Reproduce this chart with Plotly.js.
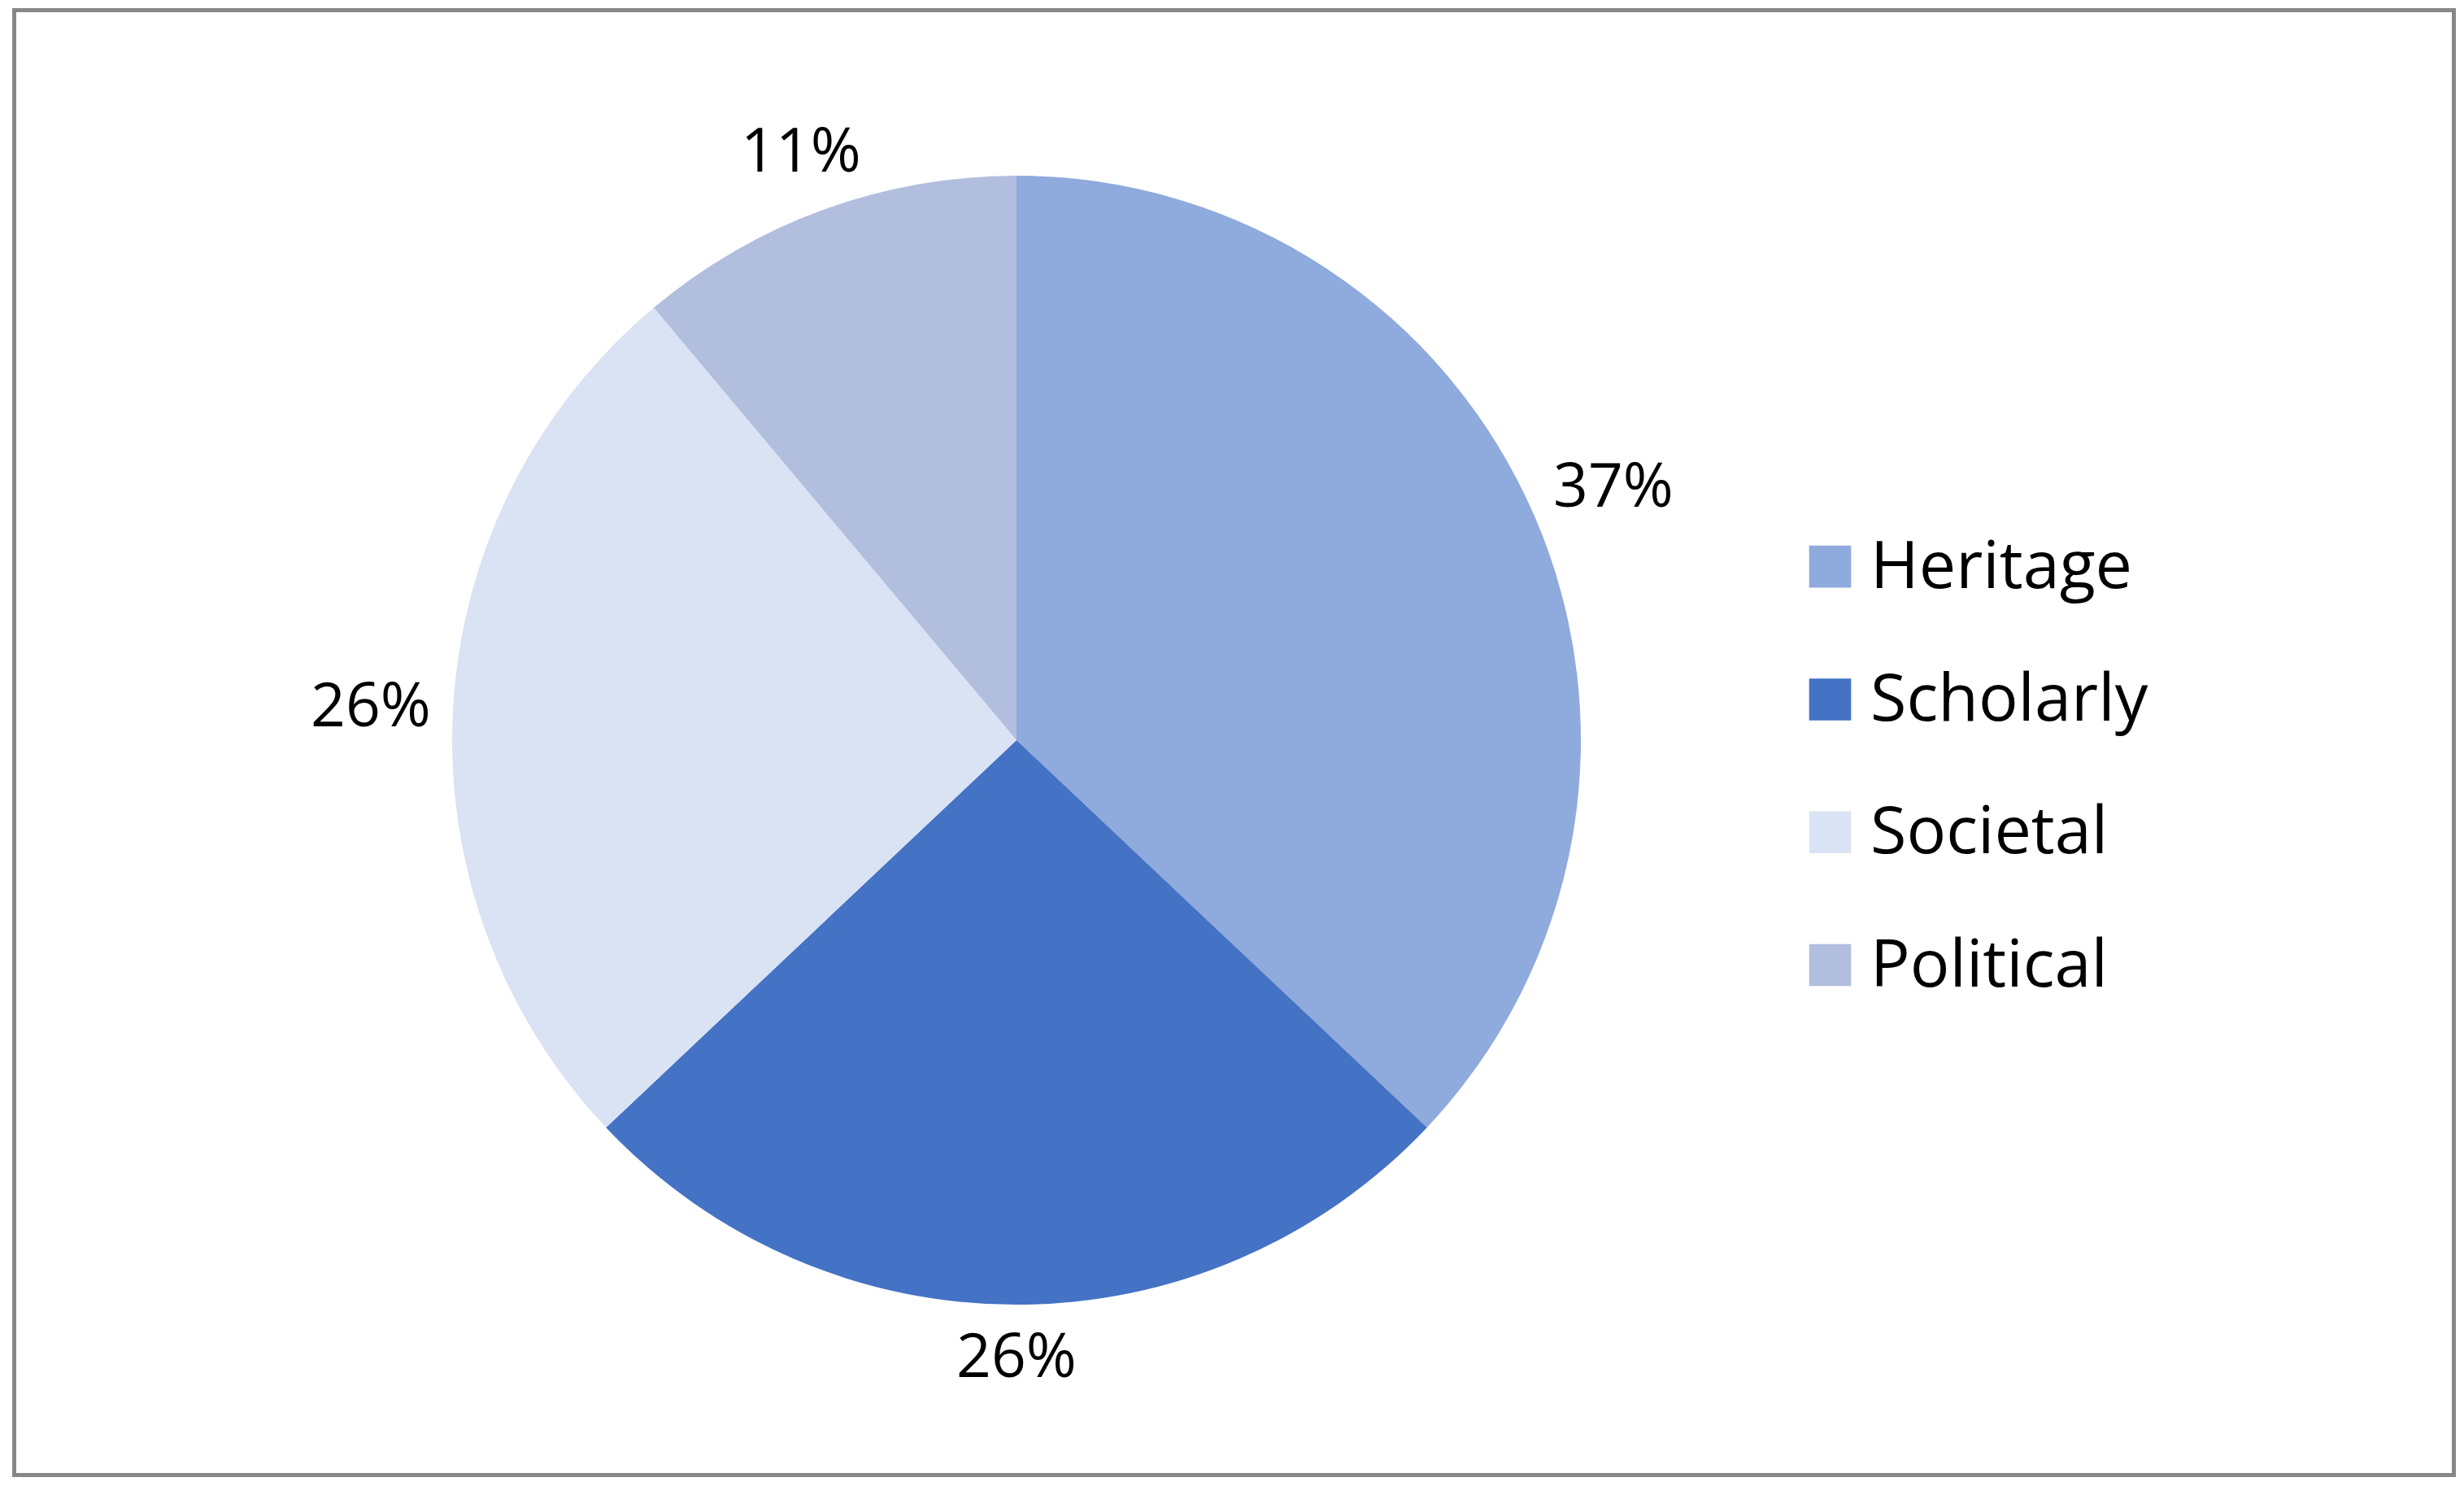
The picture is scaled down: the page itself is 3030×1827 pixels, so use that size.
<!DOCTYPE html>
<html><head><meta charset="utf-8">
<script src="https://cdn.plot.ly/plotly-3.0.1.min.js"></script>
<style>
html,body{margin:0;padding:0;background:#fff;}
#chart{width:3030px;height:1827px;}
/* enlarge the pie legend swatches to match the reference */
#chart .legend path.legendpie{transform:translate(49.5px,22px) scale(4.3);}
</style></head>
<body><div id="chart"></div>
<script>
const categories = ['Heritage', 'Scholarly', 'Societal', 'Political'];
const counts = [10, 7, 7, 3];
const sliceColors = ['#8FAADC', '#4472C4', '#DAE3F3', '#B2BEDE'];

const W = 3030, H = 1827;
const pieDomain = {x: [556/W, 1944/W], y: [223/H, 1611/H]};
const labelFontSize = 75;

const legendLabels = categories.map(c => '<span style="font-size:81px">' + c + '</span>');

// outside percentage labels, placed along each slice's mid-angle
const total = counts.reduce((a, b) => a + b, 0);
const cxPx = (pieDomain.x[0] + pieDomain.x[1]) / 2 * W;
const cyPx = (1 - (pieDomain.y[0] + pieDomain.y[1]) / 2) * H;
const Rpx = Math.min((pieDomain.x[1] - pieDomain.x[0]) * W, (pieDomain.y[1] - pieDomain.y[0]) * H) / 2;
let cum = 0;
const labelAnnotations = counts.map(v => {
  const mid = (cum + v / 2) / total * 2 * Math.PI;
  cum += v;
  const s = Math.sin(mid), c = Math.cos(mid);
  const halfW = 0.9 * labelFontSize, halfH = 0.37 * labelFontSize;
  const d = Rpx + 32 + Math.abs(s) * halfW + Math.abs(c) * halfH;
  const px = cxPx + s * d, py = cyPx - c * d;
  return {
    xref: 'paper', yref: 'paper', x: px / W, y: 1 - py / H,
    xanchor: 'center', yanchor: 'middle', showarrow: false,
    text: Math.round(v / total * 100) + '%',
    font: {family: 'Open Sans, sans-serif', size: labelFontSize, color: '#000'}
  };
});

const trace = {
  type: 'pie',
  labels: legendLabels,
  values: counts,
  sort: false,
  direction: 'clockwise',
  rotation: 0,
  marker: {colors: sliceColors, line: {width: 0}},
  textinfo: 'none',
  domain: pieDomain,
  hoverinfo: 'none'
};

const layout = {
  width: W, height: H,
  margin: {l: 0, r: 0, t: 0, b: 0},
  paper_bgcolor: '#fff',
  showlegend: true,
  legend: {
    x: 2201/W, xanchor: 'left', y: 1 - 588/H, yanchor: 'top',
    font: {family: 'Open Sans, sans-serif', size: 123.3, color: '#000'},
    itemwidth: 89, bgcolor: 'rgba(0,0,0,0)', borderwidth: 0,
    itemclick: false, itemdoubleclick: false
  },
  annotations: labelAnnotations,
  shapes: [{type: 'rect', xref: 'paper', yref: 'paper', x0: 17.5/W, x1: 3017.5/W, y0: 1 - 1813.5/H, y1: 1 - 12.5/H,
            line: {color: '#878787', width: 5}, fillcolor: 'rgba(0,0,0,0)', layer: 'below'}]
};

Plotly.newPlot('chart', [trace], layout, {staticPlot: true});
</script>
</body></html>
